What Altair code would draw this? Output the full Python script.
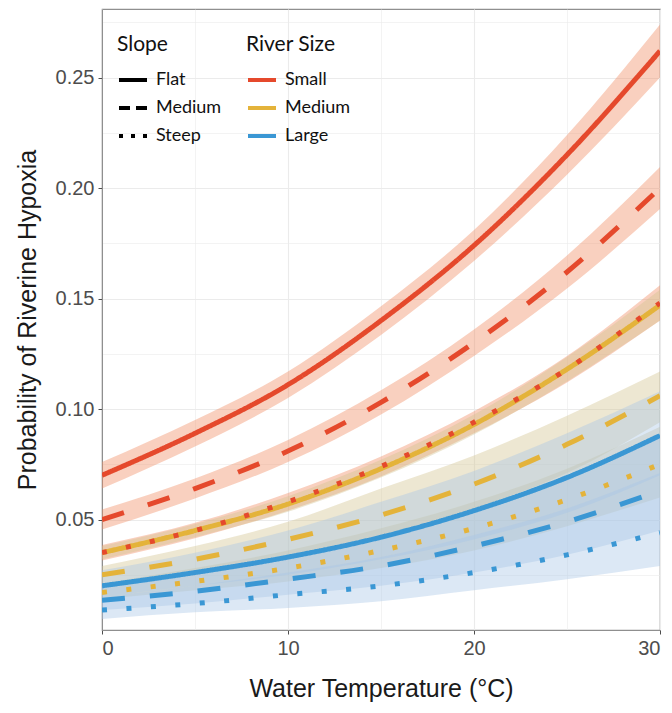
import altair as alt
import pandas as pd

temps = [0, 5, 10, 15, 20, 25, 30]
size_order = ["Small", "Medium", "Large"]
slope_order = ["Flat", "Medium", "Steep"]
line_colors = ["#E5492C", "#E4B33A", "#3A97D4"]
ribbon_colors = ["#F08A60", "#D2C28F", "#A8C6E6"]

small_flat = [0.070, 0.089, 0.111, 0.140, 0.174, 0.215, 0.262]
small_flat_lo = [0.064, 0.083, 0.105, 0.1335, 0.167, 0.206, 0.250]
small_flat_hi = [0.076, 0.095, 0.117, 0.1465, 0.181, 0.224, 0.274]

small_medium = [0.050, 0.064, 0.081, 0.103, 0.130, 0.162, 0.200]
small_medium_lo = [0.0455, 0.0595, 0.076, 0.0975, 0.124, 0.1545, 0.1905]
small_medium_hi = [0.0545, 0.0685, 0.086, 0.1085, 0.136, 0.1695, 0.2095]

small_steep = [0.035, 0.045, 0.058, 0.074, 0.094, 0.118, 0.148]
small_steep_lo = [0.0315, 0.0415, 0.054, 0.0695, 0.089, 0.112, 0.140]
small_steep_hi = [0.0385, 0.0485, 0.062, 0.0785, 0.099, 0.124, 0.156]

medium_flat = [0.035, 0.045, 0.057, 0.073, 0.093, 0.118, 0.147]
medium_flat_lo = [0.032, 0.042, 0.0535, 0.069, 0.0885, 0.1125, 0.140]
medium_flat_hi = [0.038, 0.048, 0.0605, 0.077, 0.0975, 0.1235, 0.154]

medium_medium = [0.025, 0.032, 0.041, 0.052, 0.066, 0.084, 0.106]
medium_medium_lo = [0.021, 0.027, 0.034, 0.043, 0.055, 0.071, 0.094]
medium_medium_hi = [0.029, 0.038, 0.049, 0.064, 0.079, 0.097, 0.117]

medium_steep = [0.017, 0.022, 0.028, 0.036, 0.046, 0.059, 0.075]
medium_steep_lo = [0.014, 0.018, 0.022, 0.028, 0.036, 0.047, 0.060]
medium_steep_hi = [0.021, 0.028, 0.036, 0.046, 0.058, 0.073, 0.092]

large_flat = [0.020, 0.026, 0.033, 0.042, 0.054, 0.069, 0.088]
large_flat_lo = [0.015, 0.020, 0.025, 0.032, 0.041, 0.053, 0.070]
large_flat_hi = [0.027, 0.035, 0.045, 0.058, 0.072, 0.089, 0.108]

large_medium = [0.0135, 0.0175, 0.023, 0.029, 0.038, 0.049, 0.063]
large_medium_lo = [0.009, 0.012, 0.016, 0.020, 0.026, 0.034, 0.045]
large_medium_hi = [0.020, 0.026, 0.033, 0.042, 0.054, 0.069, 0.087]

large_steep = [0.009, 0.012, 0.016, 0.020, 0.026, 0.034, 0.044]
large_steep_lo = [0.005, 0.008, 0.010, 0.013, 0.018, 0.023, 0.029]
large_steep_hi = [0.015, 0.020, 0.026, 0.033, 0.043, 0.055, 0.071]

series = [
    ("Small", "Flat", small_flat, small_flat_lo, small_flat_hi),
    ("Small", "Medium", small_medium, small_medium_lo, small_medium_hi),
    ("Small", "Steep", small_steep, small_steep_lo, small_steep_hi),
    ("Medium", "Flat", medium_flat, medium_flat_lo, medium_flat_hi),
    ("Medium", "Medium", medium_medium, medium_medium_lo, medium_medium_hi),
    ("Medium", "Steep", medium_steep, medium_steep_lo, medium_steep_hi),
    ("Large", "Flat", large_flat, large_flat_lo, large_flat_hi),
    ("Large", "Medium", large_medium, large_medium_lo, large_medium_hi),
    ("Large", "Steep", large_steep, large_steep_lo, large_steep_hi),
]

rows = []
for size, slope, fit, lo, hi in series:
    for t, f, l, h in zip(temps, fit, lo, hi):
        rows.append({"temp": t, "size": size, "band": size, "slope": slope,
                     "fit": f, "lo": l, "hi": h,
                     "top": size == "Small" and slope == "Steep"})
df = pd.DataFrame(rows)

FONT_AX = "Liberation Sans"
FONT_LG = "Lato"

x_enc = alt.X(
    "temp:Q",
    title="Water Temperature (°C)",
    scale=alt.Scale(domain=[0, 30], nice=False),
    axis=alt.Axis(
        values=[0, 5, 10, 15, 20, 25, 30],
        labelExpr="datum.value % 10 == 0 ? datum.label : ''",
        tickOpacity={"condition": {"test": "datum.value % 10 == 0", "value": 1}, "value": 0},
        gridWidth={"condition": {"test": "datum.value % 10 == 0", "value": 1.1}, "value": 0.6},
        titlePadding=18,
    ),
)
y_scale = alt.Scale(domain=[0, 0.281], nice=False, zero=False)
y_axis = alt.Axis(
    values=[0.025, 0.05, 0.075, 0.1, 0.125, 0.15, 0.175, 0.2, 0.225, 0.25, 0.275],
    labelExpr="round(datum.value*1000) % 50 == 0 ? format(datum.value, '.2f') : ''",
    tickOpacity={"condition": {"test": "round(datum.value*1000) % 50 == 0", "value": 1}, "value": 0},
    gridWidth={"condition": {"test": "round(datum.value*1000) % 50 == 0", "value": 1.1}, "value": 0.6},
    titlePadding=15,
)

color_scale = alt.Scale(domain=size_order, range=line_colors)
fill_scale = alt.Scale(domain=size_order, range=ribbon_colors)
dash_scale = alt.Scale(domain=slope_order, range=[[1, 0], [23, 25], [5, 19.5]])
legend_dash_scale = alt.Scale(domain=slope_order, range=[[1, 0], [11, 6], [4, 8]])

ribbons = alt.Chart(df).mark_area(
    interpolate="monotone", clip=True, strokeWidth=0, opacity=0.4
).encode(
    x=x_enc,
    y=alt.Y("lo:Q", scale=y_scale, axis=y_axis, title="Probability of Riverine Hypoxia"),
    y2="hi:Q",
    fill=alt.Fill("band:N", scale=fill_scale, legend=None),
    detail="slope:N",
)

common_legend = dict(
    orient="none",
    legendY=25,
    symbolType="stroke",
    symbolStrokeWidth=4,
    symbolSize=784,
    titleFont=FONT_LG,
    labelFont=FONT_LG,
    titleFontSize=21,
    titleFontWeight="normal",
    labelFontSize=18,
    titleColor="#111111",
    labelColor="#111111",
    rowPadding=3,
    titlePadding=9,
    labelOffset=7,
)
slope_legend = alt.Legend(title="Slope", legendX=15, symbolStrokeColor="black", **common_legend)
size_legend = alt.Legend(title="River Size", legendX=144, **common_legend)

lines = alt.Chart(df).transform_filter("!datum.top").mark_line(
    strokeWidth=5, interpolate="monotone", strokeCap="butt", clip=True
).encode(
    x=x_enc,
    y=alt.Y("fit:Q", scale=y_scale),
    color=alt.Color("size:N", scale=color_scale, legend=None),
    strokeDash=alt.StrokeDash("slope:N", scale=dash_scale, legend=None),
)

top_line = alt.Chart(df).transform_filter("datum.top").mark_line(
    strokeWidth=5, interpolate="monotone", strokeCap="butt", clip=True
).encode(
    x=x_enc,
    y=alt.Y("fit:Q", scale=y_scale),
    color=alt.Color("size:N", scale=color_scale, legend=None),
    strokeDash=alt.StrokeDash("slope:N", scale=dash_scale, legend=None),
)

slope_key = alt.Chart(df).transform_filter("false").mark_line(
    strokeWidth=4, strokeCap="butt", color="black"
).encode(
    x=x_enc,
    y=alt.Y("fit:Q", scale=y_scale),
    strokeDash=alt.StrokeDash("slope:N", scale=legend_dash_scale, legend=slope_legend),
)

size_key = alt.Chart(df).transform_filter("false").mark_line(
    strokeWidth=4, strokeCap="butt"
).encode(
    x=x_enc,
    y=alt.Y("fit:Q", scale=y_scale),
    stroke=alt.Stroke("size:N", scale=color_scale, legend=size_legend),
)

chart = alt.layer(ribbons, lines, top_line, slope_key, size_key).resolve_scale(
    strokeDash="independent"
).resolve_legend(
    color="independent", stroke="independent", strokeDash="independent"
).properties(
    width=558,
    height=621,
    autosize=alt.AutoSizeParams(type="none"),
    padding={"left": 94, "top": 1, "right": 4, "bottom": 75},
).configure_view(
    stroke="#8F8F8F", strokeWidth=1.2
).configure_axis(
    labelFont=FONT_AX,
    titleFont=FONT_AX,
    labelFontSize=20,
    titleFontSize=25,
    titleFontWeight="normal",
    labelColor="#4D4D4D",
    titleColor="#1A1A1A",
    gridColor="#EBEBEB",
    tickColor="#4D4D4D",
    tickSize=4,
    labelPadding=4,
    domainColor="#8F8F8F",
)

chart.save("out.html", embed_options={"renderer": "svg", "actions": False})
